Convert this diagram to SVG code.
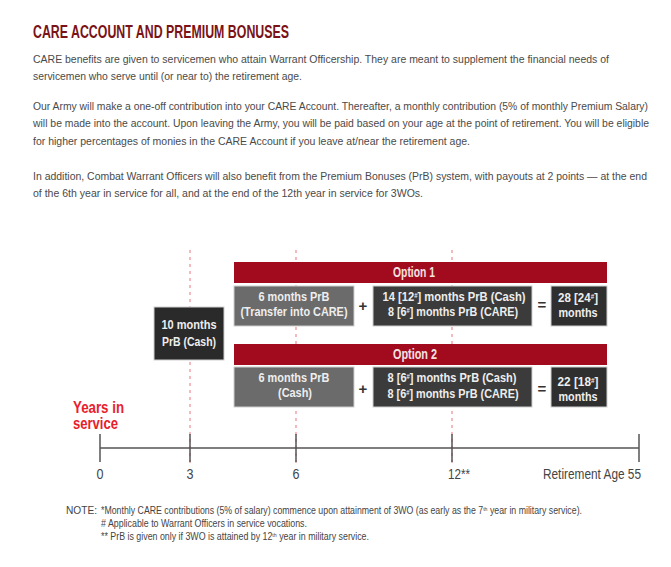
<svg xmlns="http://www.w3.org/2000/svg" width="671" height="567" viewBox="0 0 671 567">
<style>
.title{font-family:"Liberation Sans",Arial,sans-serif;font-weight:bold;font-size:18px;fill:#7a1217}
.body{font-family:"Liberation Sans",Arial,sans-serif;font-size:10.6px;fill:#4a4a4a}
.dg{font-family:"Liberation Sans",Arial,sans-serif;font-weight:bold;font-size:13px;fill:#eeeeee;text-anchor:middle}
.opt{font-family:"Liberation Sans",Arial,sans-serif;font-weight:bold;font-size:14px;fill:#f4e2e2}
.op{font-family:"Liberation Sans",Arial,sans-serif;font-weight:bold;font-size:15px;fill:#333;text-anchor:middle}
.ax{font-family:"Liberation Sans",Arial,sans-serif;font-size:14px;fill:#444;text-anchor:middle}
.yrs{font-family:"Liberation Sans",Arial,sans-serif;font-weight:bold;font-size:16px;fill:#e8202c}
.note{font-family:"Liberation Sans",Arial,sans-serif;font-size:10.2px;fill:#444}
.bar{fill:#a20b1d}
.gbox{fill:#6b6b6b;stroke:#cfcfcf;stroke-width:1}
.dbox{fill:#3b3b3b;stroke:#cfcfcf;stroke-width:1}
.rbox{fill:#2f2f2f;stroke:#cfcfcf;stroke-width:1}
.kbox{fill:#2a2a2a;stroke:#cfcfcf;stroke-width:1}
.dash{stroke:#f08a8f;stroke-width:1.2;stroke-dasharray:3 4;fill:none}
.axis{stroke:#555;stroke-width:1.5;fill:none}
</style>
<rect width="671" height="567" fill="#ffffff"/>

<g id="text">
<text class="title" x="33" y="38" textLength="256" lengthAdjust="spacingAndGlyphs">CARE ACCOUNT AND PREMIUM BONUSES</text>
<text class="body" x="33" y="63" textLength="576" lengthAdjust="spacingAndGlyphs">CARE benefits are given to servicemen who attain Warrant Officership. They are meant to supplement the financial needs of</text>
<text class="body" x="33" y="80" textLength="269" lengthAdjust="spacingAndGlyphs">servicemen who serve until (or near to) the retirement age.</text>
<text class="body" x="33" y="110" textLength="615" lengthAdjust="spacingAndGlyphs">Our Army will make a one-off contribution into your CARE Account. Thereafter, a monthly contribution (5% of monthly Premium Salary)</text>
<text class="body" x="33" y="127" textLength="616" lengthAdjust="spacingAndGlyphs">will be made into the account. Upon leaving the Army, you will be paid based on your age at the point of retirement. You will be eligible</text>
<text class="body" x="33" y="145" textLength="437" lengthAdjust="spacingAndGlyphs">for higher percentages of monies in the CARE Account if you leave at/near the retirement age.</text>
<text class="body" x="33" y="180" textLength="614" lengthAdjust="spacingAndGlyphs">In addition, Combat Warrant Officers will also benefit from the Premium Bonuses (PrB) system, with payouts at 2 points — at the end</text>
<text class="body" x="33" y="197" textLength="390" lengthAdjust="spacingAndGlyphs">of the 6th year in service for all, and at the end of the 12th year in service for 3WOs.</text>
</g>

<g id="connectors">
<line class="dash" x1="190" y1="250" x2="190" y2="465"/>
<line class="dash" x1="296" y1="250" x2="296" y2="465"/>
<line class="dash" x1="452" y1="250" x2="452" y2="465"/>
<line class="axis" x1="100" y1="448" x2="639" y2="448"/>
<line class="axis" x1="100" y1="434" x2="100" y2="462"/>
<line class="axis" x1="190" y1="434" x2="190" y2="462"/>
<line class="axis" x1="296" y1="434" x2="296" y2="462"/>
<line class="axis" x1="452" y1="434" x2="452" y2="462"/>
<line class="axis" x1="639" y1="434" x2="639" y2="462"/>
</g>

<g id="axis-labels">
<text class="yrs" x="73" y="413" textLength="51" lengthAdjust="spacingAndGlyphs">Years in</text>
<text class="yrs" x="73" y="429" textLength="45" lengthAdjust="spacingAndGlyphs">service</text>
<text class="ax" x="100" y="479" textLength="7" lengthAdjust="spacingAndGlyphs">0</text>
<text class="ax" x="190" y="479" textLength="7" lengthAdjust="spacingAndGlyphs">3</text>
<text class="ax" x="296" y="479" textLength="7" lengthAdjust="spacingAndGlyphs">6</text>
<text class="ax" x="459" y="479" textLength="22" lengthAdjust="spacingAndGlyphs">12**</text>
<text class="ax" x="592" y="479" textLength="98" lengthAdjust="spacingAndGlyphs">Retirement Age 55</text>
</g>

<g id="cash10">
<rect class="kbox" x="154" y="307" width="70" height="53"/>
<text class="dg" x="189" y="329" textLength="55" lengthAdjust="spacingAndGlyphs">10 months</text>
<text class="dg" x="189" y="346" textLength="54" lengthAdjust="spacingAndGlyphs">PrB (Cash)</text>
</g>

<g id="option1-bar">
<rect class="bar" x="234" y="262" width="373" height="21"/>
<text class="opt" x="393" y="277" textLength="42" lengthAdjust="spacingAndGlyphs">Option 1</text>
</g>
<g id="option1-transfer">
<rect class="gbox" x="234" y="286" width="120" height="40"/>
<text class="dg" x="294" y="301" textLength="71" lengthAdjust="spacingAndGlyphs">6 months PrB</text>
<text class="dg" x="294" y="316" textLength="107" lengthAdjust="spacingAndGlyphs">(Transfer into CARE)</text>
</g>
<text class="op" x="363" y="311">+</text>
<g id="option1-payout">
<rect class="dbox" x="373" y="286" width="159" height="40"/>
<text class="dg" x="454" y="301" textLength="143" lengthAdjust="spacingAndGlyphs">14 [12<tspan font-size="7" baseline-shift="super">#</tspan>] months PrB (Cash)</text>
<text class="dg" x="453" y="316" textLength="130" lengthAdjust="spacingAndGlyphs">8 [6<tspan font-size="7" baseline-shift="super">#</tspan>] months PrB (CARE)</text>
</g>
<text class="op" x="542" y="310">=</text>
<g id="option1-total">
<rect class="rbox" x="551" y="286" width="56" height="40"/>
<text class="dg" x="578" y="302" textLength="40" lengthAdjust="spacingAndGlyphs">28 [24<tspan font-size="7" baseline-shift="super">#</tspan>]</text>
<text class="dg" x="578" y="317" textLength="39" lengthAdjust="spacingAndGlyphs">months</text>
</g>

<g id="option2-bar">
<rect class="bar" x="234" y="344" width="373" height="21"/>
<text class="opt" x="393" y="359" textLength="44" lengthAdjust="spacingAndGlyphs">Option 2</text>
</g>
<g id="option2-cash">
<rect class="gbox" x="234" y="367" width="120" height="40"/>
<text class="dg" x="294" y="382" textLength="71" lengthAdjust="spacingAndGlyphs">6 months PrB</text>
<text class="dg" x="295" y="397" textLength="34" lengthAdjust="spacingAndGlyphs">(Cash)</text>
</g>
<text class="op" x="363" y="394">+</text>
<g id="option2-payout">
<rect class="dbox" x="373" y="367" width="159" height="40"/>
<text class="dg" x="452" y="382" textLength="129" lengthAdjust="spacingAndGlyphs">8 [6<tspan font-size="7" baseline-shift="super">#</tspan>] months PrB (Cash)</text>
<text class="dg" x="453" y="398" textLength="131" lengthAdjust="spacingAndGlyphs">8 [6<tspan font-size="7" baseline-shift="super">#</tspan>] months PrB (CARE)</text>
</g>
<text class="op" x="542" y="394">=</text>
<g id="option2-total">
<rect class="rbox" x="551" y="367" width="56" height="40"/>
<text class="dg" x="578" y="386" textLength="41" lengthAdjust="spacingAndGlyphs">22 [18<tspan font-size="7" baseline-shift="super">#</tspan>]</text>
<text class="dg" x="578" y="401" textLength="39" lengthAdjust="spacingAndGlyphs">months</text>
</g>

<g id="notes">
<text class="note" x="66" y="514" textLength="31" lengthAdjust="spacingAndGlyphs">NOTE:</text>
<text class="note" x="101" y="514" textLength="481" lengthAdjust="spacingAndGlyphs">*Monthly CARE contributions (5% of salary) commence upon attainment of 3WO (as early as the 7<tspan font-size="6" baseline-shift="super">th</tspan> year in military service).</text>
<text class="note" x="101" y="527" textLength="206" lengthAdjust="spacingAndGlyphs"># Applicable to Warrant Officers in service vocations.</text>
<text class="note" x="101" y="540" textLength="268" lengthAdjust="spacingAndGlyphs">** PrB is given only if 3WO is attained by 12<tspan font-size="6" baseline-shift="super">th</tspan> year in military service.</text>
</g>
</svg>
